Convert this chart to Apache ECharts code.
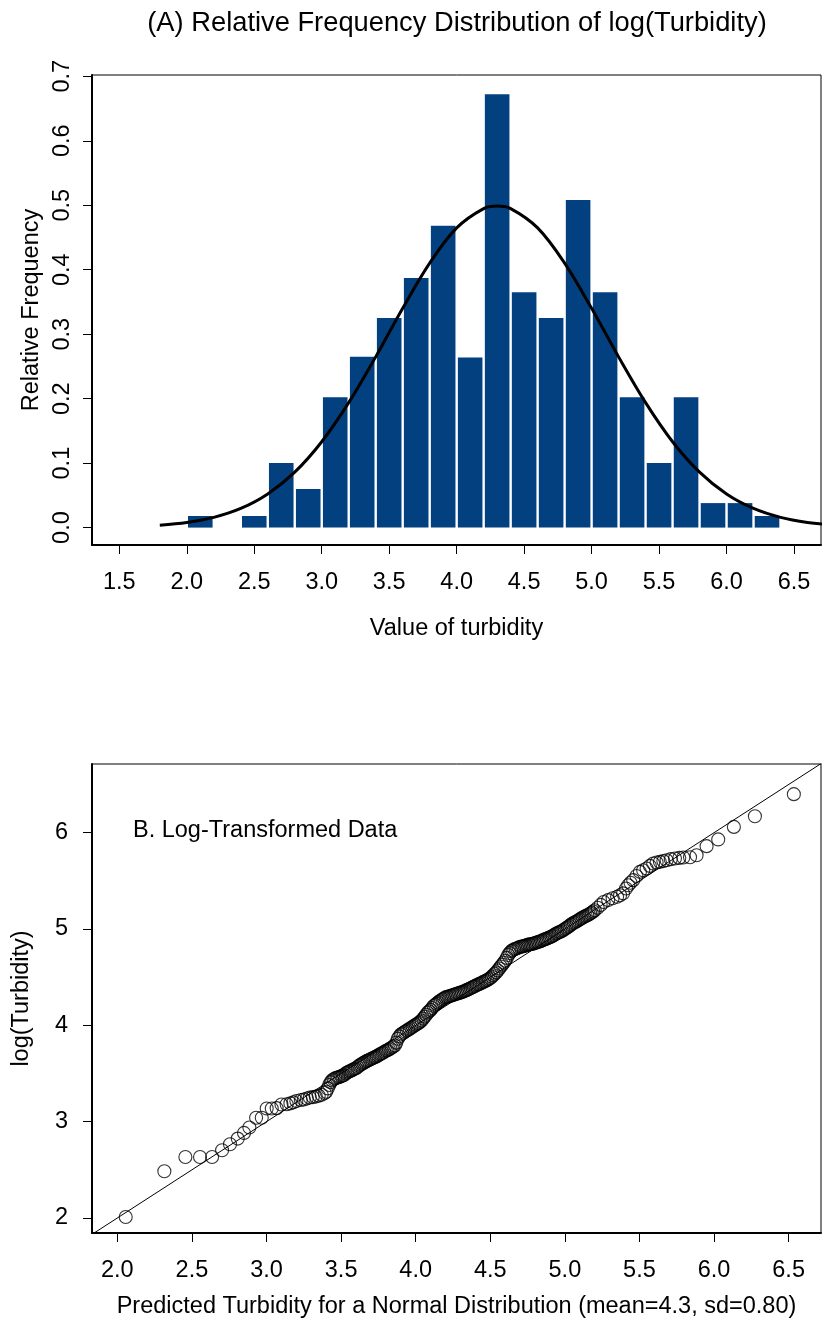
<!DOCTYPE html>
<html>
<head>
<meta charset="utf-8">
<script src="https://cdn.jsdelivr.net/npm/echarts@6/dist/echarts.min.js"></script>
<style>
  html, body { margin: 0; padding: 0; background: #ffffff; }
  #chart { width: 822px; height: 1322px; }
</style>
</head>
<body>
<div id="chart"></div>
<script>
// ---- Panel A: histogram of log(turbidity) ----
const histBinStart = [2.0, 2.2, 2.4, 2.6, 2.8, 3.0, 3.2, 3.4, 3.6, 3.8, 4.0,
                      4.2, 4.4, 4.6, 4.8, 5.0, 5.2, 5.4, 5.6, 5.8, 6.0, 6.2];
const histBinWidth = 0.2;
const histRelFreq = [0.018, 0, 0.018, 0.100, 0.060, 0.202, 0.265, 0.325, 0.387, 0.468, 0.264,
                     0.672, 0.365, 0.325, 0.508, 0.365, 0.202, 0.100, 0.202, 0.038, 0.038, 0.018];

// fitted normal density (mean 4.3, sd 0.80)
const normalCurveX = [1.8, 2.0, 2.2, 2.4, 2.6, 2.8, 3.0, 3.2, 3.4, 3.6, 3.8, 4.0, 4.2, 4.3,
                      4.4, 4.6, 4.8, 5.0, 5.2, 5.4, 5.6, 5.8, 6.0, 6.2, 6.4, 6.6, 6.8];
const normalCurveY = [0.0038, 0.0080, 0.0159, 0.0297, 0.0522, 0.0860, 0.1332, 0.1938, 0.2648, 0.3401,
                      0.4102, 0.4648, 0.4948, 0.4987, 0.4948, 0.4648, 0.4102, 0.3401, 0.2648, 0.1938,
                      0.1332, 0.0860, 0.0522, 0.0297, 0.0159, 0.0080, 0.0038];

const histXTicks = [1.5, 2.0, 2.5, 3.0, 3.5, 4.0, 4.5, 5.0, 5.5, 6.0, 6.5];
const histYTicks = [0.0, 0.1, 0.2, 0.3, 0.4, 0.5, 0.6, 0.7];

// ---- Panel B: normal Q-Q plot [theoretical quantile, observed log turbidity] ----
const qqPointsLow = [
  [2.056, 2.010], [2.315, 2.485], [2.456, 2.633], [2.554, 2.633], [2.635, 2.633],
  [2.702, 2.703], [2.755, 2.765], [2.807, 2.824], [2.849, 2.883], [2.885, 2.939],
  [2.930, 3.040], [2.968, 3.040], [3.001, 3.136], [3.035, 3.136], [3.068, 3.140],
  [3.100, 3.178], [3.135, 3.180], [3.160, 3.190], [3.180, 3.200], [3.200, 3.215],
  [3.230, 3.225], [3.250, 3.230], [3.270, 3.240], [3.290, 3.250], [3.310, 3.255],
  [3.330, 3.260], [3.350, 3.270], [3.370, 3.280], [3.390, 3.298]
];
const qqPointsMid = [
  [3.40, 3.310], [3.41, 3.345], [3.42, 3.380], [3.43, 3.410], [3.44, 3.430],
  [3.45, 3.440], [3.46, 3.450], [3.47, 3.455], [3.48, 3.460], [3.49, 3.465],
  [3.50, 3.470], [3.51, 3.478], [3.52, 3.485], [3.53, 3.500], [3.54, 3.510],
  [3.55, 3.518], [3.56, 3.525], [3.57, 3.532], [3.58, 3.540], [3.59, 3.548],
  [3.60, 3.555], [3.61, 3.568], [3.62, 3.580], [3.63, 3.590], [3.64, 3.600],
  [3.65, 3.610], [3.66, 3.620], [3.67, 3.628], [3.68, 3.635], [3.69, 3.642],
  [3.70, 3.650], [3.71, 3.658], [3.72, 3.665], [3.73, 3.672], [3.74, 3.680],
  [3.75, 3.690], [3.76, 3.700], [3.77, 3.708], [3.78, 3.715], [3.79, 3.725],
  [3.80, 3.735], [3.81, 3.742], [3.82, 3.750], [3.83, 3.760], [3.84, 3.770],
  [3.85, 3.780], [3.86, 3.790], [3.87, 3.820], [3.88, 3.860], [3.89, 3.885],
  [3.90, 3.905], [3.91, 3.915], [3.92, 3.925], [3.93, 3.935], [3.94, 3.945],
  [3.95, 3.955], [3.96, 3.965], [3.97, 3.975], [3.98, 3.985], [3.99, 3.995],
  [4.00, 4.005], [4.01, 4.015], [4.02, 4.025], [4.03, 4.037], [4.04, 4.050],
  [4.05, 4.070], [4.06, 4.090], [4.07, 4.110], [4.08, 4.130], [4.09, 4.145],
  [4.10, 4.160], [4.11, 4.180], [4.12, 4.200], [4.13, 4.212], [4.14, 4.225],
  [4.15, 4.238], [4.16, 4.250], [4.17, 4.260], [4.18, 4.270], [4.19, 4.280],
  [4.20, 4.290], [4.21, 4.295], [4.22, 4.300], [4.23, 4.305], [4.24, 4.310],
  [4.25, 4.315], [4.26, 4.320], [4.27, 4.325], [4.28, 4.330], [4.29, 4.335],
  [4.30, 4.340], [4.31, 4.345], [4.32, 4.350], [4.33, 4.358], [4.34, 4.365],
  [4.35, 4.372], [4.36, 4.380], [4.37, 4.388], [4.38, 4.395], [4.39, 4.402],
  [4.40, 4.410], [4.41, 4.418], [4.42, 4.425], [4.43, 4.432], [4.44, 4.440],
  [4.45, 4.448], [4.46, 4.455], [4.47, 4.462], [4.48, 4.470], [4.49, 4.480],
  [4.50, 4.490], [4.51, 4.505], [4.52, 4.520], [4.53, 4.535], [4.54, 4.550],
  [4.55, 4.570], [4.56, 4.590], [4.57, 4.610], [4.58, 4.630], [4.59, 4.650],
  [4.60, 4.670], [4.61, 4.700], [4.62, 4.730], [4.63, 4.750], [4.64, 4.770],
  [4.65, 4.780], [4.66, 4.790], [4.67, 4.795], [4.68, 4.800], [4.69, 4.808],
  [4.70, 4.815], [4.71, 4.818], [4.72, 4.820], [4.73, 4.825], [4.74, 4.830],
  [4.75, 4.835], [4.76, 4.840], [4.77, 4.842], [4.78, 4.845], [4.79, 4.850],
  [4.80, 4.855], [4.81, 4.860], [4.82, 4.865], [4.83, 4.870], [4.84, 4.875],
  [4.85, 4.882], [4.86, 4.890], [4.87, 4.895], [4.88, 4.900], [4.89, 4.908],
  [4.90, 4.915], [4.91, 4.922], [4.92, 4.930], [4.93, 4.940], [4.94, 4.950],
  [4.95, 4.958], [4.96, 4.965], [4.97, 4.972], [4.98, 4.980], [4.99, 4.990],
  [5.00, 5.000], [5.01, 5.010], [5.02, 5.020], [5.03, 5.032], [5.04, 5.045],
  [5.05, 5.055], [5.06, 5.065], [5.07, 5.072], [5.08, 5.080], [5.09, 5.090],
  [5.10, 5.100], [5.11, 5.110], [5.12, 5.120], [5.13, 5.128], [5.14, 5.135],
  [5.15, 5.142], [5.16, 5.150], [5.17, 5.160], [5.18, 5.170], [5.19, 5.182],
  [5.20, 5.195]
];
const qqPointsHigh = [
  [5.22, 5.220], [5.24, 5.250], [5.26, 5.280], [5.29, 5.300], [5.32, 5.320],
  [5.35, 5.335], [5.37, 5.350], [5.39, 5.370], [5.41, 5.420], [5.425, 5.455],
  [5.44, 5.480], [5.458, 5.507], [5.48, 5.550], [5.503, 5.593], [5.525, 5.610],
  [5.548, 5.628], [5.57, 5.655], [5.592, 5.680], [5.615, 5.690], [5.637, 5.697],
  [5.66, 5.705], [5.682, 5.714], [5.71, 5.725], [5.738, 5.732], [5.767, 5.738],
  [5.794, 5.742], [5.839, 5.745], [5.883, 5.766], [5.950, 5.860], [6.028, 5.930],
  [6.133, 6.060], [6.274, 6.170], [6.535, 6.400]
];
// reference line y = x
const qqLineEnds = [1.5, 7.0];

const qqXTicks = [2.0, 2.5, 3.0, 3.5, 4.0, 4.5, 5.0, 5.5, 6.0, 6.5];
const qqYTicks = [2, 3, 4, 5, 6];

const FONT = "'Liberation Sans', Arial, Helvetica, sans-serif";
const BASE = 23.5;
const BAR_COLOR = '#03407f';

const histBars = histBinStart.map((s, i) => [s, s + histBinWidth, histRelFreq[i]]);
const curveData = normalCurveX.map((x, i) => [x, normalCurveY[i]]);
const refLine = qqLineEnds.map(v => [v, v]);
const qqPoints = qqPointsLow.concat(qqPointsMid, qqPointsHigh);

function makeAxis(ticks, fmt, opts, labelOpts) {
  return Object.assign({
    type: 'value',
    splitLine: { show: false },
    axisLine: { show: true, onZero: false, lineStyle: { color: '#000', width: 2 } },
    axisTick: { show: true, inside: false, length: 9, customValues: ticks,
                lineStyle: { color: '#000', width: 1 } },
    axisLabel: Object.assign({ customValues: ticks, formatter: fmt, color: '#000',
                 fontFamily: FONT, fontSize: BASE }, labelOpts),
    nameTextStyle: { color: '#000', fontFamily: FONT, fontSize: BASE }
  }, opts);
}

const chart = echarts.init(document.getElementById('chart'), null, { renderer: 'canvas' });

chart.setOption({
  animation: false,
  backgroundColor: '#ffffff',
  grid: [
    { left: 92, top: 75, width: 729, height: 470, show: true, outerBoundsMode: 'none',
      borderColor: '#000', borderWidth: 1, backgroundColor: 'transparent' },
    { left: 92, top: 764, width: 729, height: 469, show: true, outerBoundsMode: 'none',
      borderColor: '#000', borderWidth: 1, backgroundColor: 'transparent' }
  ],
  xAxis: [
    makeAxis(histXTicks, v => v.toFixed(1), {
      gridIndex: 0, min: 1.2975, max: 6.70,
      name: 'Value of turbidity', nameLocation: 'middle', nameGap: 72
    }, { margin: 26 }),
    makeAxis(qqXTicks, v => v.toFixed(1), {
      gridIndex: 1, min: 1.83, max: 6.717,
      name: 'Predicted Turbidity for a Normal Distribution (mean=4.3, sd=0.80)',
      nameLocation: 'middle', nameGap: 62
    }, { margin: 26 })
  ],
  yAxis: [
    makeAxis(histYTicks, v => v.toFixed(1), {
      gridIndex: 0, min: -0.027, max: 0.702,
      name: 'Relative Frequency', nameLocation: 'middle', nameGap: 32
    }, { margin: 17, rotate: 90 }),
    makeAxis(qqYTicks, v => String(v), {
      gridIndex: 1, min: 1.844, max: 6.713,
      name: 'log(Turbidity)', nameLocation: 'middle', nameGap: 58
    }, { margin: 24 })
  ],
  graphic: [
    { type: 'text', x: 457, y: 23, z: 10,
      style: { text: '(A) Relative Frequency Distribution of log(Turbidity)',
               textAlign: 'center', textVerticalAlign: 'middle', fill: '#000',
               font: "27.3px " + FONT } },
    { type: 'text', x: 133, y: 819, z: 10,
      style: { text: 'B. Log-Transformed Data', fill: '#000', font: BASE + "px " + FONT } }
  ],
  series: [
    {
      type: 'custom', xAxisIndex: 0, yAxisIndex: 0,
      data: histBars,
      renderItem: function (params, api) {
        if (api.value(2) <= 0) return null;
        const p0 = api.coord([api.value(0), 0]);
        const p1 = api.coord([api.value(1), api.value(2)]);
        return {
          type: 'rect',
          shape: { x: p0[0] + 1.2, y: p1[1], width: p1[0] - p0[0] - 2.4, height: p0[1] - p1[1] },
          style: { fill: BAR_COLOR }
        };
      }
    },
    {
      type: 'line', xAxisIndex: 0, yAxisIndex: 0,
      data: curveData, smooth: 0.35, symbol: 'none', clip: true,
      lineStyle: { color: '#000', width: 3 }
    },
    {
      type: 'line', xAxisIndex: 1, yAxisIndex: 1,
      data: refLine, symbol: 'none', clip: true,
      lineStyle: { color: '#000', width: 1 }
    },
    {
      type: 'scatter', xAxisIndex: 1, yAxisIndex: 1,
      data: qqPoints, symbol: 'circle', symbolSize: 13,
      itemStyle: { color: 'rgba(0,0,0,0)', borderColor: '#000', borderWidth: 1.1 }
    }
  ]
});
</script>
</body>
</html>
